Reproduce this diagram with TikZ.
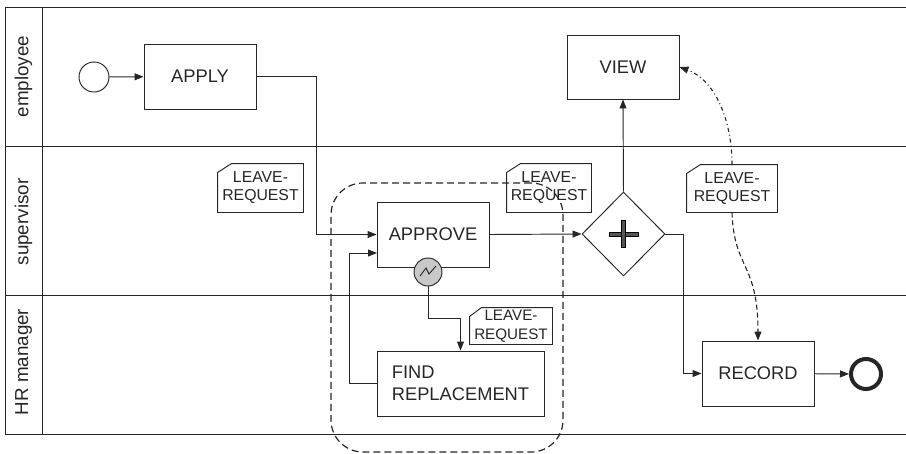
\documentclass[tikz,border=0pt]{standalone}
\usepackage{fontspec}
\setmainfont{Liberation Sans}
\usetikzlibrary{arrows.meta,shapes.geometric,calc}
\definecolor{ln}{HTML}{262626}
\definecolor{tmr}{HTML}{C8C8C8}
\definecolor{plus}{HTML}{555555}
\begin{document}
\begin{tikzpicture}[x=1pt,y=-1pt,line width=0.95pt,color=ln,
  task/.style={draw,rectangle,minimum width=112pt,minimum height=65pt,inner sep=0pt,font=\fontsize{18.3}{22}\selectfont,align=center},
  dataobj/.style={minimum width=85pt,minimum height=48pt,inner sep=0pt,font=\fontsize{15.8}{18}\selectfont,align=center},
  flow/.style={-{Triangle[length=9pt,width=7pt]}},
  assoc/.style={line width=1.1pt,dash pattern=on 5pt off 3pt,-{Triangle[length=9pt,width=7pt]}},
  assocdd/.style={line width=1.1pt,dash pattern=on 4pt off 3pt on 1pt off 3pt,-{Triangle[length=9pt,width=7pt]}},
  lanelabel/.style={rotate=90,font=\fontsize{18.8}{22}\selectfont,inner sep=0pt}]
\useasboundingbox (0,0) rectangle (906,453);
% pool and lanes
\draw (906,7) -- (5,7) -- (5,434) -- (906,434);
\draw (42,7) -- (42,434);
\draw (5,146) -- (906,146);
\draw (5,295) -- (906,295);
\node[lanelabel] (l1) at (23.5,76.5) {employee};
\node[lanelabel] (l2) at (23.5,222) {supervisor};
\node[lanelabel] (l3) at (23.5,362) {HR manager};
% group
\node[draw,line width=1.2pt,dash pattern=on 7pt off 4pt,rounded corners=32pt,minimum width=232pt,minimum height=269pt,inner sep=0pt] (grp) at (447,317.5) {};
% events and tasks
\node[circle,draw,minimum size=30pt,inner sep=0pt] (start) at (94,77) {};
\node[task] (apply) at (200,76.5) {APPLY};
\node[task] (approve) at (433,234.5) {APPROVE};
\node[task,minimum height=64pt] (view) at (623,67) {VIEW};
\node[task,minimum width=167pt,align=left] (find) at (460.5,383.5) {FIND\\REPLACEMENT};
\node[task] (record) at (758,373.5) {RECORD};
\node[circle,draw,line width=4pt,minimum size=30pt,inner sep=0pt] (end) at (866,374) {};
\node[circle,draw,fill=tmr,minimum size=28pt,inner sep=0pt] (tm) at (428,272) {};
\draw[line width=0.9pt] ($(tm)+(-8,4)$) -- ++(6,-8) -- ++(3,6) -- ++(7,-8);
% gateway
\node[draw,diamond,minimum width=83pt,minimum height=84pt,inner sep=0pt] (gw) at (623.5,234) {};
\filldraw[fill=plus,draw=black,line width=0.5pt] ($(gw.center)+(-14.5,-2)$) rectangle ++(29,4);
\filldraw[fill=plus,draw=black,line width=0.5pt] ($(gw.center)+(-2,-13.5)$) rectangle ++(4,27);
% data objects
\node[dataobj] (d1) at (260.5,188) {LEAVE-\\REQUEST};
\node[dataobj,minimum width=84pt] (d2) at (549,188) {LEAVE-\\REQUEST};
\node[dataobj,minimum width=90pt,minimum height=47pt] (d3) at (732,188.5) {LEAVE-\\REQUEST};
\node[dataobj,minimum width=82pt,minimum height=36pt,font=\fontsize{15.2}{19}\selectfont] (d4) at (511,326) {LEAVE-\\REQUEST};
\foreach \d/\f in {d1/14,d2/14,d3/14,d4/12}
  \draw (\d.south west) -- ($(\d.north west)+(0,9)$) -- ($(\d.north west)+(\f,0)$) -- (\d.north east) -- (\d.south east) -- cycle;
% sequence flows
\draw[flow] (start) -- (apply);
\draw[flow] (apply.east) -- ++(60,0) |- (approve.west);
\draw[flow] (approve.east) -- (gw.west);
\draw[flow] (gw.north) -- (view.south);
\draw[flow] (gw.east) -- ++(18,0) |- (record.west);
\draw[flow] (record) -- (end);
\draw[flow] (tm.south) -- ++(0,32) -| (find.north);
\coordinate (lp) at (377,253);
\draw[flow] (find.west) -| ($(lp)+(-28,0)$) -- (lp);
% associations
\draw[assoc] (d3.south) .. controls (734,270) and (758,262) .. (record.north);
\draw[assocdd] (d3.north) .. controls (732,120) and (715,80) .. (view.east);
\end{tikzpicture}
\end{document}
